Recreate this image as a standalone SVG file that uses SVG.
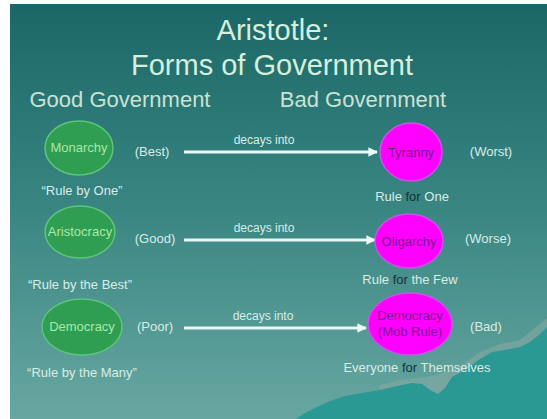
<svg xmlns="http://www.w3.org/2000/svg" width="547" height="419" viewBox="0 0 547 419">
  <defs>
    <linearGradient id="bg" x1="0" y1="0" x2="0" y2="1">
      <stop offset="0" stop-color="#1b6767"/>
      <stop offset="0.5" stop-color="#3a8683"/>
      <stop offset="1" stop-color="#68a7a1"/>
    </linearGradient>
    <marker id="arrow" viewBox="0 0 10 10" refX="9" refY="5" markerWidth="3.2" markerHeight="3.2" orient="auto" markerUnits="strokeWidth">
      <path d="M0,0 L10,5 L0,10 Z" fill="#eef9f6"/>
    </marker>
    <style>
      .t { font-family: "Liberation Sans", Arial, sans-serif; text-anchor: middle; }
      .title { font-size: 29px; fill: #d6eedc; }
      .head { font-size: 22px; fill: #c8e2d4; }
      .lbl { font-size: 13px; fill: #d8ece6; }
      .small { font-size: 12px; fill: #d8ece6; }
      .good { fill: #2f9e52; stroke: #5cc47c; stroke-width: 1.5; }
      .goodtxt { font-size: 13px; fill: #a8e8a8; }
      .bad { fill: #ff00ff; stroke: #c257e6; stroke-width: 1.5; }
      .badtxt { font-size: 13px; fill: #7a1a8e; }
      .for { fill: #17323a; }
      .conn { stroke: #eaf8f4; stroke-width: 3; fill: none; marker-end: url(#arrow); }
    </style>
  </defs>

  <rect x="0" y="0" width="547" height="419" fill="#ffffff"/>
  <rect x="10" y="4" width="537" height="415" fill="url(#bg)"/>

  <!-- mountains -->
  <path d="M380,419 L380,385 L400,380 L418,378 L432,376 L446,372 L460,366 L480,352 L500,344 L520,340 L547,318 L547,419 Z" fill="#84a9a1" opacity="0.6"/>
  <path d="M296,419 L305,413 L317,407 L330,401 L345,396 L362,393 L380,390 L397,386 L412,383 L422,384 L430,390 L438,394 L445,388 L452,377 L465,370 L480,359 L492,352 L505,350 L520,347 L530,342 L540,334 L547,327 L547,419 Z" fill="#2a9893"/>

  <text class="t title" x="273" y="40">Aristotle:</text>
  <text class="t title" x="272" y="75">Forms of Government</text>
  <text class="t head" x="120" y="107">Good Government</text>
  <text class="t head" x="363" y="107">Bad Government</text>

  <g id="connectors">
    <line class="conn" x1="184" y1="152" x2="377" y2="152"/>
    <line class="conn" x1="184" y1="240" x2="375" y2="240"/>
    <line class="conn" x1="184" y1="328" x2="366" y2="328"/>
    <text class="t small" x="264" y="144">decays into</text>
    <text class="t small" x="264" y="232">decays into</text>
    <text class="t small" x="263" y="320">decays into</text>
  </g>

  <g id="monarchy">
    <ellipse class="good" cx="79" cy="148" rx="34" ry="27"/>
    <text class="t goodtxt" x="79" y="152">Monarchy</text>
    <text class="t lbl" x="152" y="156">(Best)</text>
    <text class="t lbl" x="82" y="195">“Rule by One”</text>
  </g>

  <g id="aristocracy">
    <ellipse class="good" cx="80" cy="232" rx="35" ry="26"/>
    <text class="t goodtxt" x="80" y="236">Aristocracy</text>
    <text class="t lbl" x="155" y="243">(Good)</text>
    <text class="t lbl" x="80" y="289">“Rule by the Best”</text>
  </g>

  <g id="democracy">
    <ellipse class="good" cx="82" cy="327" rx="40" ry="28"/>
    <text class="t goodtxt" x="82" y="331">Democracy</text>
    <text class="t lbl" x="155" y="331">(Poor)</text>
    <text class="t lbl" x="82" y="377">“Rule by the Many”</text>
  </g>

  <g id="tyranny">
    <ellipse class="bad" cx="411" cy="152" rx="31" ry="29"/>
    <text class="t badtxt" x="411" y="157">Tyranny</text>
    <text class="t lbl" x="491" y="156">(Worst)</text>
    <text class="t lbl" x="412" y="201">Rule <tspan class="for">for</tspan> One</text>
  </g>

  <g id="oligarchy">
    <ellipse class="bad" cx="409" cy="241" rx="34" ry="27"/>
    <text class="t badtxt" x="409" y="246">Oligarchy</text>
    <text class="t lbl" x="488" y="243">(Worse)</text>
    <text class="t lbl" x="410" y="284">Rule <tspan class="for">for</tspan> the Few</text>
  </g>

  <g id="mobrule">
    <ellipse class="bad" cx="410" cy="324" rx="42" ry="31"/>
    <text class="t badtxt" x="410" y="320">Democracy</text>
    <text class="t badtxt" x="410" y="336">(Mob Rule)</text>
    <text class="t lbl" x="486" y="331">(Bad)</text>
    <text class="t lbl" x="417" y="372">Everyone <tspan class="for">for</tspan> Themselves</text>
  </g>
</svg>
